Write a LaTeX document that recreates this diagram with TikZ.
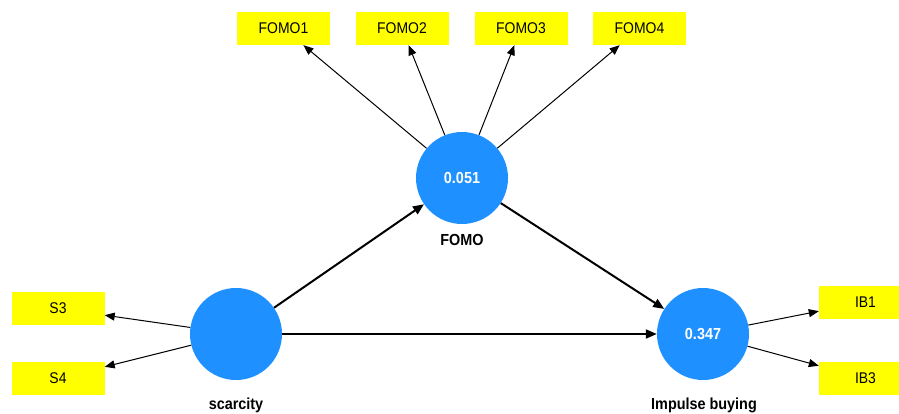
\documentclass[tikz,border=0pt]{standalone}
\usepackage{fontspec}
\setmainfont[FakeStretch=0.9]{Liberation Sans}
\usetikzlibrary{arrows.meta}
\definecolor{latentblue}{RGB}{30,144,255}
\definecolor{indyellow}{RGB}{255,255,0}
\begin{document}
\begin{tikzpicture}[x=1pt,y=-1pt,
  latent/.style={circle,fill=latentblue,draw=none,minimum size=92pt,inner sep=0pt,
    text=white,font=\fontsize{16}{16}\selectfont\bfseries},
  indicator/.style={rectangle,fill=indyellow,draw=none,minimum width=93pt,minimum height=33pt,
    inner sep=0pt,font=\fontsize{15.5}{15.5}\selectfont},
  lvlabel/.style={font=\fontsize{16}{16}\selectfont\bfseries},
  outer/.style={-{Triangle[length=10pt,width=8pt]},line width=1pt},
  inner/.style={-{Triangle[length=11pt,width=9pt]},line width=2pt}]
\useasboundingbox (0,0) rectangle (899,414);
\clip (0,0) rectangle (899,414);

% latent variables
\node[latent] (fomo) at (462,178) {0.051};
\node[latent] (sc) at (236,334) {};
\node[latent] (ib) at (703,334) {0.347};

\node[lvlabel] (fomolab) at (462,240) {FOMO};
\node[lvlabel] (sclab) at (236,405) {scarcity};
\node[lvlabel] (iblab) at (704,405) {Impulse buying};

% indicators
\node[indicator] (f1) at (283.5,28.5) {FOMO1};
\node[indicator] (f2) at (402,28.5) {FOMO2};
\node[indicator] (f3) at (521,28.5) {FOMO3};
\node[indicator] (f4) at (639.5,28.5) {FOMO4};
\node[indicator] (s3) at (58,308.5) {S3};
\node[indicator] (s4) at (58,378.5) {S4};
\node[indicator] (ib1) at (865.5,302) {IB1};
\node[indicator] (ib3) at (865.5,378.5) {IB3};

% outer model
\foreach \t in {f1,f2,f3,f4} \draw[outer] (fomo) -- (\t);
\draw[outer] (sc) -- (s3);
\draw[outer] (sc) -- (s4);
\draw[outer] (ib) -- (ib1);
\draw[outer] (ib) -- (ib3);

% inner model
\draw[inner] (sc) -- (fomo);
\draw[inner] (fomo) -- (ib);
\draw[inner] (sc) -- (ib);
\end{tikzpicture}
\end{document}
